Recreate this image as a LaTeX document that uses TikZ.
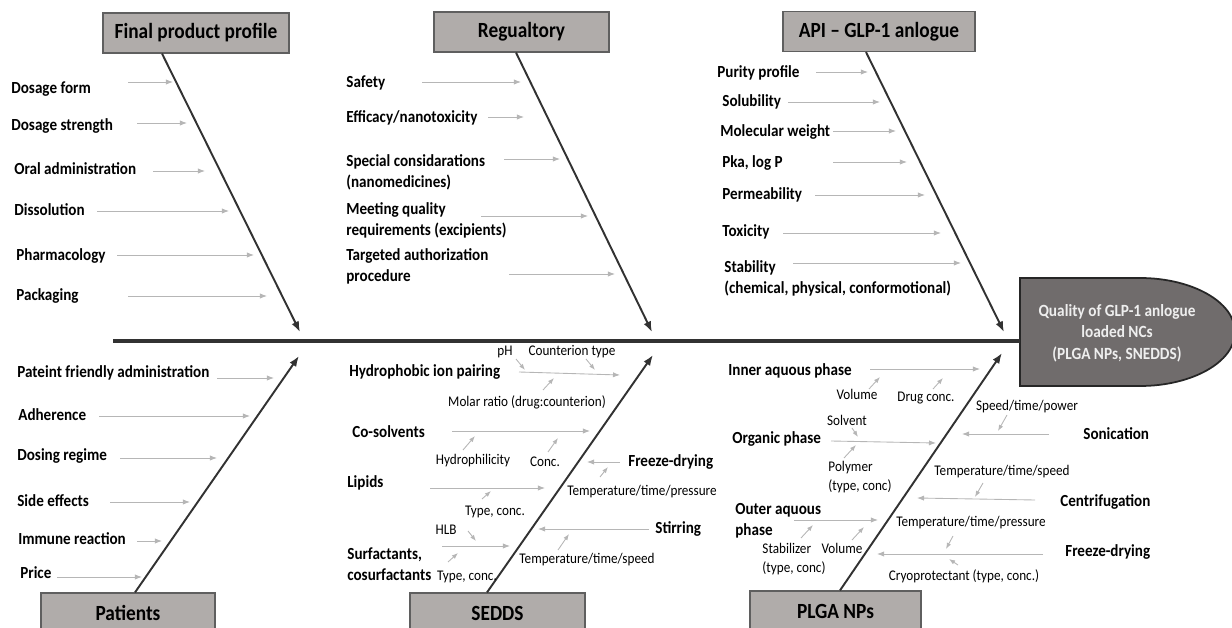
\documentclass[tikz,border=0pt]{standalone}
\usepackage{fontspec}
\setmainfont{Carlito}
\usetikzlibrary{arrows.meta}

\definecolor{boxfill}{RGB}{176,172,170}
\definecolor{boxline}{RGB}{95,95,95}
\definecolor{boneline}{RGB}{50,50,50}
\definecolor{arrowgray}{RGB}{182,182,182}
\definecolor{headfill}{RGB}{112,108,108}
\definecolor{headtext}{RGB}{238,238,238}

\begin{document}
\begin{tikzpicture}[x=0.02cm, y=-0.02cm]
        \tikzstyle{every node}=[inner sep=0pt]
        \tikzstyle{lbl}=[anchor=west, align=left, yscale=1.12, font=\bfseries\fontsize{8.6}{10.7}\selectfont]
        \tikzstyle{sublbl}=[align=left, yscale=1.12, font=\fontsize{7.5}{9.8}\selectfont]
        \tikzstyle{cat}=[draw=boxline, fill=boxfill, line width=0.6pt, yscale=1.12, minimum height=0.714cm, font=\bfseries\fontsize{11}{13}\selectfont]
        \tikzstyle{bone}=[draw=boneline, line width=1.1pt, -{Latex[length=6pt,width=4.5pt]}]
        \tikzstyle{cause}=[draw=arrowgray, line width=0.5pt, -{Latex[length=4pt,width=3pt]}]
        \tikzstyle{subarr}=[draw=arrowgray, line width=0.5pt, -{Latex[length=3.5pt,width=2.6pt]}]
        \useasboundingbox (0,0) rectangle (1232,628);

        % fish head and spine
        \filldraw[fill=headfill, draw=black!85, line width=1pt] (1020,278) -- (1140,278) .. controls (1192,278) and (1235,302) .. (1235,332) .. controls (1235,362) and (1192,386) .. (1140,386) -- (1020,386) -- cycle;
        \node[align=center, text=headtext, yscale=1.12, font=\bfseries\fontsize{8.7}{10.9}\selectfont] (head) at (1117,333) {Quality of GLP-1 anlogue\\loaded NCs\\(PLGA NPs, SNEDDS)};
        \coordinate (tail) at (113,341);
        \coordinate (headW) at (1020,341);
        \draw[draw=boneline, line width=2.5pt] (tail) -- (headW);

        % category boxes
        \node[cat, minimum width=3.72cm] (fp) at (196,33) {Final product profile};
        \node[cat, minimum width=3.5cm] (rg) at (521.5,32) {Regualtory};
        \node[cat, minimum width=3.84cm] (ap) at (879,31.5) {API -- GLP-1 anlogue};
        \node[cat, minimum width=3.48cm] (pt) at (128,613) {Patients};
        \node[cat, minimum width=3.5cm] (sd) at (497.5,613) {SEDDS};
        \node[cat, minimum width=3.42cm] (pl) at (835.5,611) {PLGA NPs};

        % bones
        \coordinate (fpE) at (300,332);
        \coordinate (rgE) at (652,332);
        \coordinate (apE) at (1004,332);
        \coordinate (ptE) at (299,356);
        \coordinate (sdE) at (653,355);
        \coordinate (plE) at (1002,353);
        \draw[bone] ([xshift=-0.68cm]fp.south) -- (fpE);
        \draw[bone] ([xshift=-0.11cm]rg.south) -- (rgE);
        \draw[bone] ([xshift=-0.26cm]ap.south) -- (apE);
        \draw[bone] ([xshift=0.14cm]pt.north) -- (ptE);
        \draw[bone] ([xshift=-0.21cm]sd.north) -- (sdE);
        \draw[bone] ([xshift=0.09cm]pl.north) -- (plE);

        % Final product profile
        \node[lbl] (fp1) at (11,89) {Dosage form};
        \node[lbl] (fp2) at (11,126) {Dosage strength};
        \node[lbl] (fp3) at (14,169) {Oral administration};
        \node[lbl] (fp4) at (14,210) {Dissolution};
        \node[lbl] (fp5) at (16,256) {Pharmacology};
        \node[lbl] (fp6) at (16,296) {Packaging};
        \draw[cause] (fp1.west) ++(117,-7) -- ++(45,0);
        \draw[cause] (fp2.west) ++(126,-3) -- ++(50,0);
        \draw[cause] (fp3.west) ++(139,2) -- ++(52,0);
        \draw[cause] (fp4.west) ++(83,1) -- ++(132,0);
        \draw[cause] (fp5.west) ++(101,-1) -- ++(137,0);
        \draw[cause] (fp6.west) ++(112,0) -- ++(139,0);

        % Regualtory
        \node[lbl] (rg1) at (346,83) {Safety};
        \node[lbl] (rg2) at (346,118) {Efficacy/nanotoxicity};
        \node[lbl] (rg3) at (346,172) {Special considarations\\(nanomedicines)};
        \node[lbl] (rg4) at (346,220) {Meeting quality\\requirements (excipients)};
        \node[lbl] (rg5) at (346,266) {Targeted authorization\\procedure};
        \draw[cause] (rg1.west) ++(76,-1) -- ++(99,0);
        \draw[cause] (rg2.west) ++(142,-1) -- ++(36,0);
        \draw[cause] (rg3.west) ++(158,-13) -- ++(56,0);
        \draw[cause] (rg4.west) ++(135,-4) -- ++(107,0);
        \draw[cause] (rg5.west) ++(163,8) -- ++(106,0);

        % API
        \node[lbl] (ap1) at (717,73) {Purity profile};
        \node[lbl] (ap2) at (722,102) {Solubility};
        \node[lbl] (ap3) at (720,132) {Molecular weight};
        \node[lbl] (ap4) at (722,163) {Pka, log P};
        \node[lbl] (ap5) at (722,195) {Permeability};
        \node[lbl] (ap6) at (722,232) {Toxicity};
        \node[lbl] (ap7) at (724,278) {Stability\\(chemical, physical, conformotional)};
        \draw[cause] (ap1.west) ++(99,-1) -- ++(52,0);
        \draw[cause] (ap2.west) ++(66,0) -- ++(92,0);
        \draw[cause] (ap3.west) ++(113,-1) -- ++(63,0);
        \draw[cause] (ap4.west) ++(111,-1) -- ++(74,0);
        \draw[cause] (ap5.west) ++(93,0) -- ++(110,0);
        \draw[cause] (ap6.west) ++(61,1) -- ++(158,0);
        \draw[cause] (ap7.west) ++(69,-15) -- ++(168,0);

        % Patients
        \node[lbl] (pt1) at (17,373) {Pateint friendly administration};
        \node[lbl] (pt2) at (18,415) {Adherence};
        \node[lbl] (pt3) at (17,456) {Dosing regime};
        \node[lbl] (pt4) at (17,501) {Side effects};
        \node[lbl] (pt5) at (18,539) {Immune reaction};
        \node[lbl] (pt6) at (20,573) {Price};
        \draw[cause] (pt1.west) ++(200,5) -- ++(57,0);
        \draw[cause] (pt2.west) ++(81,1) -- ++(151,0);
        \draw[cause] (pt3.west) ++(103,2) -- ++(97,0);
        \draw[cause] (pt4.west) ++(93,1) -- ++(80,0);
        \draw[cause] (pt5.west) ++(119,2) -- ++(25,0);
        \draw[cause] (pt6.west) ++(37,4) -- ++(85,0);

        % SEDDS
        \node[lbl] (sd1) at (349,372) {Hydrophobic ion pairing};
        \node[lbl] (sd2) at (352,432) {Co-solvents};
        \node[lbl] (sd3) at (347,483) {Lipids};
        \node[lbl] (sd4) at (347,564) {Surfactants,\\cosurfactants};
        \node[lbl] (sd5) at (628,462) {Freeze-drying};
        \node[lbl] (sd6) at (655,529) {Stirring};
        \draw[cause] (sd1.west) ++(170,0) -- ++(101,3);
        \draw[cause] (sd2.west) ++(100,-1) -- ++(138,0);
        \draw[cause] (sd3.west) ++(83,5) -- ++(115,0);
        \draw[cause] (sd4.west) ++(95,-18) -- ++(68,0);
        \draw[cause] (sd5.west) ++(-8,0) -- ++(-33,0);
        \draw[cause] (sd6.west) ++(-6,0) -- ++(-111,0);
        \node[sublbl] (ph) at (505,352) {pH};
        \node[sublbl] (cion) at (572,352) {Counterion type};
        \node[sublbl] (molar) at (527,402) {Molar ratio (drug:counterion)};
        \node[sublbl] (hphil) at (473,461) {Hydrophilicity};
        \node[sublbl] (cconc) at (545,462) {Conc.};
        \node[sublbl] (ltype) at (495,512) {Type, conc.};
        \node[sublbl] (fdcond) at (642,492) {Temperature/time/pressure};
        \node[sublbl] (hlb) at (446,530) {HLB};
        \node[sublbl] (stype) at (467,577) {Type, conc.};
        \node[sublbl] (stcond) at (587,560) {Temperature/time/speed};
        \draw[subarr] (ph) ++(11,7) -- ++(9,11);
        \draw[subarr] (cion) ++(14,7) -- ++(9,11);
        \draw[subarr] (molar) ++(16,-12) -- ++(11,-12);
        \draw[subarr] (hphil) ++(-10,-11) -- ++(12,-14);
        \draw[subarr] (cconc) ++(3,-10) -- ++(10,-14);
        \draw[subarr] (ltype) ++(-13,-13) -- ++(9,-8);
        \draw[subarr] (fdcond) ++(-42,-15) -- ++(8,-10);
        \draw[subarr] (hlb) ++(22,1) -- ++(8,10);
        \draw[subarr] (stype) ++(-19,-15) -- ++(10,-9);
        \draw[subarr] (stcond) ++(-29,-10) -- ++(11,-16);

        % PLGA NPs
        \node[lbl] (pl1) at (728,371) {Inner aquous phase};
        \node[lbl] (pl2) at (732,439) {Organic phase};
        \node[lbl] (pl3) at (735,521) {Outer aquous\\phase};
        \node[lbl] (pl4) at (1083,434) {Sonication};
        \node[lbl] (pl5) at (1060,502) {Centrifugation};
        \node[lbl] (pl6) at (1065,552) {Freeze-drying};
        \draw[cause] (pl1.west) ++(142,-2) -- ++(110,0);
        \draw[cause] (pl2.west) ++(99,2) -- ++(105,2);
        \draw[cause] (pl3.west) ++(59,-1) -- ++(84,0);
        \draw[cause] (pl4.west) ++(-34,0) -- ++(-87,0);
        \draw[cause] (pl5.west) ++(-25,-2) -- ++(-118,-2);
        \draw[cause] (pl6.west) ++(-22,2) -- ++(-166,0);
        \node[sublbl] (ivol) at (857,394) {Volume};
        \node[sublbl] (dconc) at (926,398) {Drug conc.};
        \node[sublbl] (solv) at (847,420) {Solvent};
        \node[sublbl] (poly) at (860,477) {Polymer\\(type, conc)};
        \node[sublbl] (stab) at (794,559) {Stabilizer\\(type, conc)};
        \node[sublbl] (ovol) at (842,548) {Volume};
        \node[sublbl] (soncond) at (1027,407) {Speed/time/power};
        \node[sublbl] (cfcond) at (1002,472) {Temperature/time/speed};
        \node[sublbl] (fdcond2) at (971,523) {Temperature/time/pressure};
        \node[sublbl] (cryo) at (964,576) {Cryoprotectant (type, conc.)};
        \draw[subarr] (ivol) ++(12,-5) -- ++(11,-12);
        \draw[subarr] (dconc) ++(7,-9) -- ++(10,-11);
        \draw[subarr] (solv) ++(5,8) -- ++(6,9);
        \draw[subarr] (poly) ++(-16,-19) -- ++(12,-13);
        \draw[subarr] (stab) ++(7,-21) -- ++(12,-13);
        \draw[subarr] (ovol) ++(10,-8) -- ++(12,-13);
        \draw[subarr] (soncond) ++(-20,8) -- ++(-9,16);
        \draw[subarr] (cfcond) ++(-19,11) -- ++(-8,14);
        \draw[subarr] (fdcond2) ++(-18,13) -- ++(-7,13);
        \draw[subarr] (cryo) ++(-6,-11) -- ++(-9,-6);
    \end{tikzpicture}
\end{document}
